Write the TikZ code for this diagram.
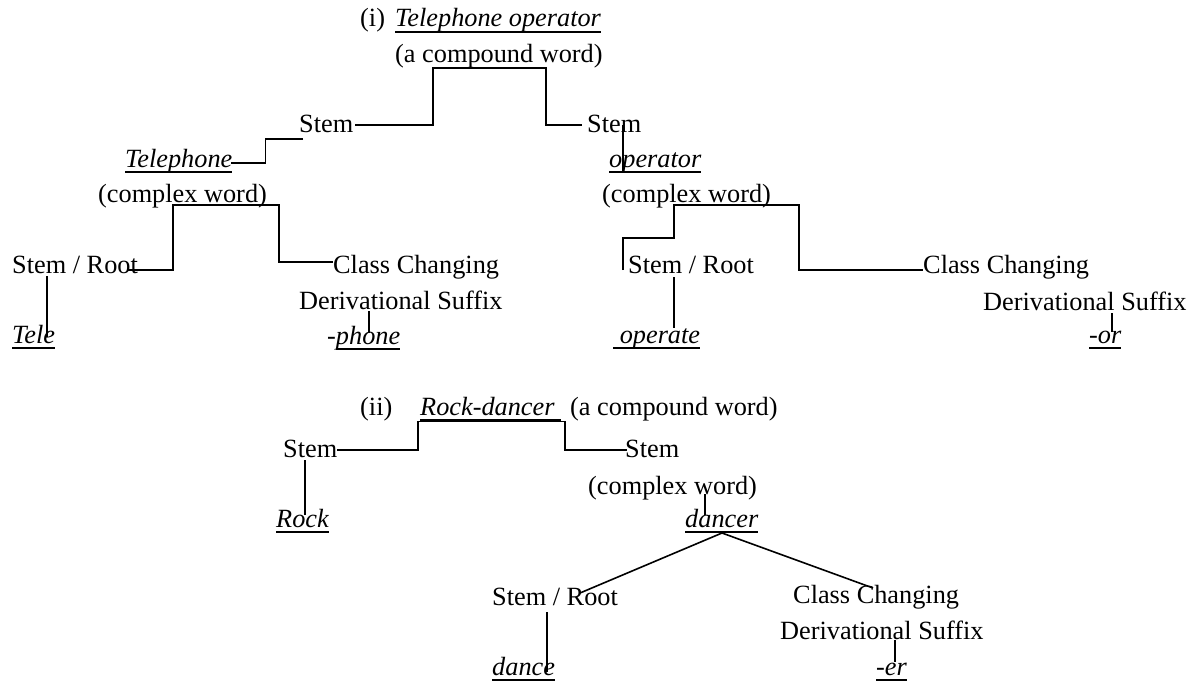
\documentclass[tikz,border=0pt]{standalone}
\usepackage{fontspec}
\setmainfont{Liberation Serif}
\usetikzlibrary{calc}
\newcommand\ulx[1]{\setbox0\hbox{#1}\rlap{\rule[-6pt]{\wd0}{1.6pt}}\box0}
\tikzset{
  lbl/.style={anchor=base west, inner sep=0pt, font=\fontsize{26.3pt}{30pt}\selectfont},
  itl/.style={lbl, font=\fontsize{26.3pt}{30pt}\selectfont\itshape},
  link/.style={line width=1.6pt, black}
}
\begin{document}
\begin{tikzpicture}[x=1pt,y=-1pt]
\useasboundingbox (0,0) rectangle (1193,680);
% ---------- (i) ----------
\node[lbl] (lab1) at (360,27) {(i)};
\node[itl] (tw1) at (395,27) {\ulx{Telephone operator}};
\node[lbl] (cmp1) at (395,62) {(a compound word)};
\node[lbl] (stemL) at (299,132) {Stem};
\node[lbl] (stemR) at (587,132) {Stem};
\node[itl] (tel) at (125,167) {\ulx{Telephone}};
\node[itl] (op) at (609,167) {\ulx{operator}};
\node[lbl] (cwL) at (98,202) {(complex word)};
\node[lbl] (cwR) at (602,202) {(complex word)};
\node[lbl] (srL) at (12,273) {Stem / Root};
\node[lbl] (ccL) at (333,273) {Class Changing};
\node[lbl] (dsL) at (299,309) {Derivational Suffix};
\node[lbl] (srR) at (628,273) {Stem / Root};
\node[lbl] (ccR) at (923,273) {Class Changing};
\node[lbl] (dsR) at (983,310) {Derivational Suffix};
\node[itl] (tele) at (12,343) {\ulx{Tele}};
\node[itl] (phone) at (327,344) {-\ulx{phone}};
\node[itl] (operate) at (613,343) {\ulx{\ operate}};
\node[itl] (orn) at (1089,343) {\ulx{-or}};
% connectors (i)
\draw[link] ($(stemL.base east)+(2,-7)$) -| ($(cmp1.base west)+(38,6)$)
  -- ($(cmp1.base west)+(151,6)$) |- ($(stemR.base west)+(-5,-7)$);
\draw[link] ($(stemL.base west)+(4,7)$) -| ($(tel.base east)+(33,-4)$) -- ($(tel.base east)+(-2,-4)$);
\draw[link] ($(stemR.base west)+(36,-7)$) -- ($(op.base west)+(14,6)$);
\draw[link] ($(srL.base east)+(-10,-3)$) -| ($(cwL.base west)+(75,3)$)
  -- ($(cwL.base west)+(181,3)$) |- ($(ccL.base west)+(0,-11)$);
\draw[link] ($(srL.base west)+(35,3)$) -- ($(tele.base west)+(35,-6)$);
\draw[link] ($(dsL.base west)+(70,2)$) -- ($(phone.base west)+(42,-11)$);
\draw[link] ($(srR.base west)+(-5,-3)$) |- ($(cwR.base west)+(72,36)$)
  |- ($(cwR.base west)+(197,3)$) |- ($(ccR.base west)+(0,-3)$);
\draw[link] ($(srR.base west)+(46,4)$) -- ($(operate.base west)+(61,-15)$);
\draw[link] ($(dsR.base west)+(129,3)$) -- ($(orn.base west)+(23,-11)$);
% ---------- (ii) ----------
\node[lbl] (lab2) at (360,415) {(ii)};
\node[itl] (rd) at (420,415) {\ulx{Rock-dancer\ }};
\node[lbl] (cmp2) at (570,415) {(a compound word)};
\node[lbl] (stem2L) at (283,457) {Stem};
\node[lbl] (stem2R) at (625,457) {Stem};
\node[lbl] (cw2) at (588,494) {(complex word)};
\node[itl] (rock) at (276,527) {\ulx{Rock}};
\node[itl] (dancer) at (685,527) {\ulx{dancer}};
\node[lbl] (sr2) at (492,605) {Stem / Root};
\node[lbl] (cc2) at (793,603) {Class Changing};
\node[lbl] (ds2) at (780,639) {Derivational Suffix};
\node[itl] (dance) at (492,675) {\ulx{dance}};
\node[itl] (er) at (876,675) {\ulx{-er}};
% connectors (ii)
\draw[link] ($(stem2L.base east)+(0,-7)$) -| ($(rd.base west)+(-2,6.5)$)
  -- ($(rd.base west)+(145,6.5)$) |- ($(stem2R.base west)+(2,-7)$);
\draw[link] ($(stem2L.base west)+(22,3)$) -- ($(rock.base west)+(29,-12)$);
\draw[link] ($(cw2.base west)+(117,0)$) -- ($(dancer.base west)+(20,-12)$);
\draw[link] ($(dancer.base west)+(37,6)$) -- ($(sr2.base west)+(88,-12)$);
\draw[link] ($(dancer.base west)+(37,6)$) -- ($(cc2.base west)+(80,-15)$);
\draw[link] ($(sr2.base west)+(55,7)$) -- ($(dance.base west)+(55,-3)$);
\draw[link] ($(ds2.base west)+(115,1)$) -- ($(er.base west)+(19,-13)$);
\end{tikzpicture}
\end{document}
